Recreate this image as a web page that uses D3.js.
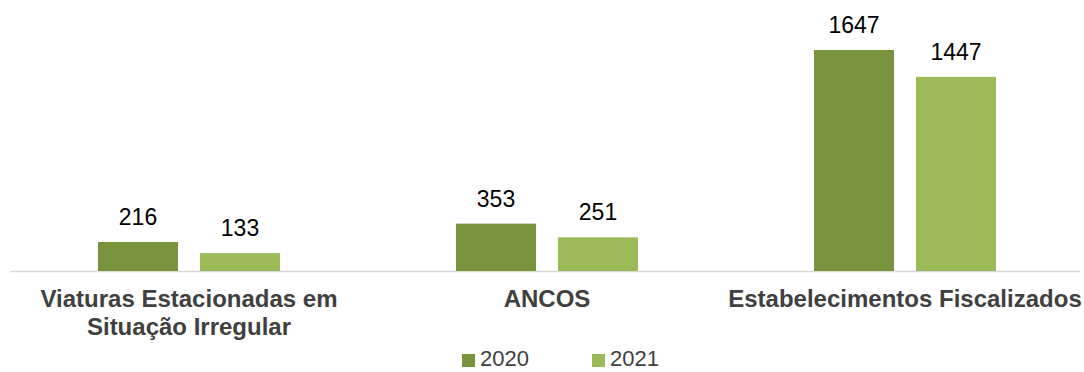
<!DOCTYPE html>
<html>
<head>
<meta charset="utf-8">
<script src="https://cdn.jsdelivr.net/npm/d3@7"></script>
<style>
  html, body { margin: 0; padding: 0; background: #fff; }
  svg { display: block; font-family: "Liberation Sans", Arial, sans-serif; }
</style>
</head>
<body>
<svg id="chart" width="1084" height="372"></svg>
<script>
// Categories (each label split into its displayed lines)
const categories = ["Viaturas Estacionadas em Situação Irregular", "ANCOS", "Estabelecimentos Fiscalizados"];
const categoryLines = [["Viaturas Estacionadas em", "Situação Irregular"], ["ANCOS"], ["Estabelecimentos Fiscalizados"]];
const seriesNames = ["2020", "2021"];
const values2020 = [216, 353, 1647];
const values2021 = [133, 251, 1447];
const seriesColors = ["#77933C", "#9BBB59"];

const svg = d3.select("#chart");
const baseY = 271;
const topY = 50;

const x0 = d3.scaleBand()
  .domain(categories)
  .range([10, 1084])
  .paddingInner(0.4916)
  .paddingOuter(0.2458);

const x1 = d3.scaleBand()
  .domain(seriesNames)
  .range([0, x0.bandwidth()])
  .paddingInner(0.216);

const y = d3.scaleLinear()
  .domain([0, 1647])
  .range([baseY, topY]);

const seriesValues = [values2020, values2021];

// Baseline axis line
svg.append("line")
  .attr("x1", 10).attr("x2", 1080)
  .attr("y1", baseY + 0.5).attr("y2", baseY + 0.5)
  .attr("stroke", "#D9D9D9").attr("stroke-width", 1.5);

// Bars and value labels
seriesNames.forEach((s, si) => {
  const g = svg.append("g");
  g.selectAll("rect")
    .data(categories)
    .join("rect")
    .attr("x", d => x0(d) + x1(s))
    .attr("y", (d, i) => y(seriesValues[si][i]))
    .attr("width", x1.bandwidth())
    .attr("height", (d, i) => baseY - y(seriesValues[si][i]))
    .attr("fill", seriesColors[si]);

  g.selectAll("text")
    .data(categories)
    .join("text")
    .attr("x", d => x0(d) + x1(s) + x1.bandwidth() / 2)
    .attr("y", (d, i) => y(seriesValues[si][i]) - 17)
    .attr("text-anchor", "middle")
    .attr("font-size", 23)
    .attr("fill", "#000")
    .text((d, i) => seriesValues[si][i]);
});

// Category labels
const catG = svg.append("g");
categories.forEach((c, ci) => {
  const t = catG.append("text")
    .attr("x", x0(c) + x0.bandwidth() / 2)
    .attr("y", 307)
    .attr("text-anchor", "middle")
    .attr("font-size", 24)
    .attr("font-weight", "bold")
    .attr("fill", "#404040");
  categoryLines[ci].forEach((line, li) => {
    t.append("tspan")
      .attr("x", x0(c) + x0.bandwidth() / 2)
      .attr("dy", li === 0 ? 0 : 28)
      .text(line);
  });
});

// Legend
const legendX = [462, 592];
const legend = svg.append("g");
seriesNames.forEach((s, si) => {
  legend.append("rect")
    .attr("x", legendX[si]).attr("y", 354)
    .attr("width", 13).attr("height", 13)
    .attr("fill", seriesColors[si]);
  legend.append("text")
    .attr("x", legendX[si] + 18).attr("y", 366)
    .attr("font-size", 22)
    .attr("fill", "#404040")
    .text(s);
});
</script>
</body>
</html>
